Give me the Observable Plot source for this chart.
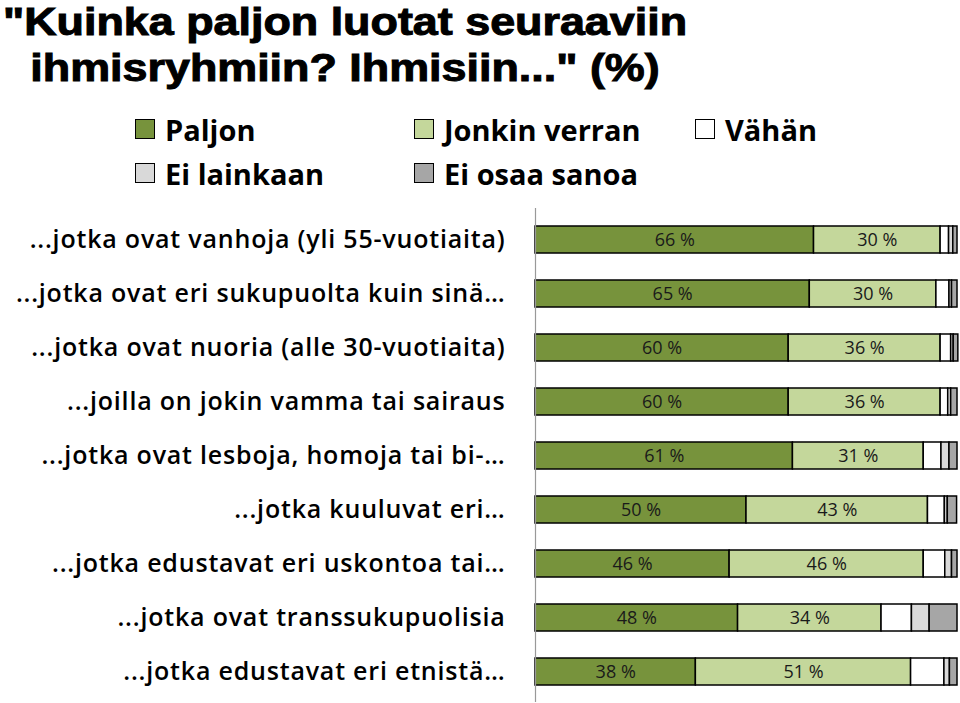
<!DOCTYPE html>
<html>
<head>
<meta charset="utf-8">
<script src="https://cdn.jsdelivr.net/npm/d3@7"></script>
<script src="https://cdn.jsdelivr.net/npm/@observablehq/plot@0.6"></script>
<style>
  html, body { margin: 0; padding: 0; background: #fff; }
  #wrap { position: relative; width: 960px; height: 703px; overflow: hidden; }
  .tl { position: absolute; left: 0; width: 600px; text-align: center;
    transform: scaleX(1.15); transform-origin: 0 0;
    font-family: "Liberation Sans", Arial, sans-serif; font-weight: bold; font-size: 39px;
    line-height: 44px; height: 44px; color: #000; -webkit-text-stroke: 1px #000; white-space: nowrap; }
  .leg { position: absolute; font-family: "Open Sans", "Noto Sans", sans-serif; font-weight: 700;
    font-size: 29px; color: #000; display: flex; align-items: center; height: 40px; }
  .sw { width: 20px; height: 20px; border: 1.5px solid #000; margin-right: 10px; box-sizing: border-box; }
  #plot { position: absolute; left: 0; top: 203px; }
  #plot g[aria-label="y-axis tick label"] text { letter-spacing: 0.8px; }
</style>
</head>
<body>
<div id="wrap">
  <div class="tl" style="top:0px">"Kuinka paljon luotat seuraaviin</div>
  <div class="tl" style="top:46px">ihmisryhmiin? Ihmisiin..." (%)</div>
  <div id="legend"></div>
  <div id="plot"></div>
</div>
<script>
const groups = [
  "...jotka ovat vanhoja (yli 55-vuotiaita)",
  "...jotka ovat eri sukupuolta kuin sinä…",
  "...jotka ovat nuoria (alle 30-vuotiaita)",
  "...joilla on jokin vamma tai sairaus",
  "...jotka ovat lesboja, homoja tai bi-…",
  "...jotka kuuluvat eri…",
  "...jotka edustavat eri uskontoa tai…",
  "...jotka ovat transsukupuolisia",
  "...jotka edustavat eri etnistä…"
];
const categories = ["Paljon", "Jonkin verran", "Vähän", "Ei lainkaan", "Ei osaa sanoa"];
const colors = ["#77933c", "#c4d79b", "#ffffff", "#d9d9d9", "#a6a6a6"];
const paljon     = [66, 65, 60, 60, 61, 50, 46, 48, 38];
const jonkin     = [30, 30, 36, 36, 31, 43, 46, 34, 51];
const vahan      = [2, 3.1, 2.5, 1.8, 4.2, 4, 5.1, 7.2, 7.9];
const eiLainkaan = [1, 0.6, 0.6, 0.7, 1.9, 0.7, 1.6, 4.2, 1.3];
const eiOsaa     = [1, 1.3, 1.1, 1.5, 1.9, 2.2, 1.3, 6.6, 1.8];
const series = [paljon, jonkin, vahan, eiLainkaan, eiOsaa];

const data = [];
groups.forEach((g, i) => {
  categories.forEach((c, j) => data.push({group: g, category: c, value: series[j][i]}));
});
const labelData = data.filter(d => d.category === "Paljon" || d.category === "Jonkin verran");

// legend
const legendPos = [[135, 109], [414, 109], [695, 109], [135, 153], [414, 153]];
const legend = document.getElementById("legend");
categories.forEach((c, j) => {
  const el = document.createElement("div");
  el.className = "leg";
  el.style.left = legendPos[j][0] + "px";
  el.style.top = legendPos[j][1] + "px";
  el.innerHTML = `<div class="sw" style="background:${colors[j]}"></div><span>${c}</span>`;
  legend.appendChild(el);
});

const chart = Plot.plot({
  width: 960,
  height: 500,
  marginLeft: 535,
  marginRight: 3,
  marginTop: 5,
  marginBottom: 1,
  style: {fontFamily: "'Open Sans', 'Noto Sans', sans-serif", background: "#fff", color: "#000"},
  x: {domain: [0, 100], axis: null},
  y: {domain: groups, paddingInner: 0.5, paddingOuter: 0.25, label: null},
  color: {domain: categories, range: colors},
  marks: [
    Plot.axisY({tickSize: 0, tickPadding: 30, fontSize: 25, fontWeight: 600, label: null}),
    Plot.barX(data, Plot.stackX({x: "value", y: "group", z: "category", fill: "category",
      stroke: "#000", strokeWidth: 1.5})),
    Plot.text(labelData, Plot.stackX({x: "value", y: "group", z: "category",
      text: d => `${d.value} %`, fontSize: 18, fill: "#1a1a1a"})),
    Plot.ruleX([0], {stroke: "#999", strokeWidth: 1.2})
  ]
});
document.getElementById("plot").appendChild(chart);
</script>
</body>
</html>
